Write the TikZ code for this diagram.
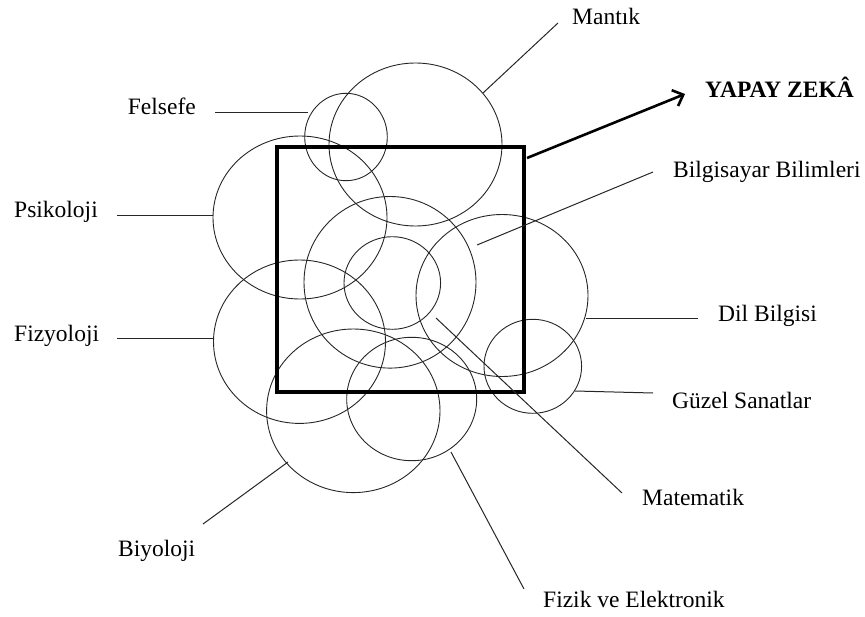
\documentclass[tikz,border=0pt]{standalone}
\usepackage{fontspec}
\setmainfont{Liberation Serif}
\usetikzlibrary{arrows.meta}
\begin{document}
\begin{tikzpicture}[x=1pt,y=-1pt,
  ring/.style={draw=black!85, line width=0.9pt},
  lead/.style={draw=black!85, line width=1pt},
  lbl/.style={font=\fontsize{23.5}{28}\selectfont, anchor=base west, inner sep=0pt},
  frame/.style={draw=black, line width=4pt},
  bigarrow/.style={draw=black, line width=2.6pt, -{Straight Barb[length=9pt,width=17pt,line width=2.6pt]}}]
\useasboundingbox (0,0) rectangle (865,616);

% circle centres
\coordinate (cFel) at (346,137);
\coordinate (cMan) at (415.5,144.5);
\coordinate (cPsi) at (300,217.5);
\coordinate (cCen) at (390,282.3);
\coordinate (cInn) at (392.3,283);
\coordinate (cBil) at (502,295.5);
\coordinate (cFiz) at (299.5,341.7);
\coordinate (cBiy) at (353.3,410.8);
\coordinate (cFik) at (411.7,399);
\coordinate (cGuz) at (532.8,366.3);

\draw[ring] (cFel) ellipse [x radius=41.3pt, y radius=43.7pt];
\draw[ring] (cMan) ellipse [x radius=86.5pt, y radius=81.5pt];
\draw[ring] (cPsi) ellipse [x radius=87pt, y radius=81.5pt];
\draw[ring] (cCen) ellipse [x radius=86pt, y radius=85.8pt];
\draw[ring] (cInn) ellipse [x radius=48.3pt, y radius=46.3pt];
\draw[ring] (cBil) ellipse [x radius=86pt, y radius=81pt];
\draw[ring] (cFiz) ellipse [x radius=86pt, y radius=81.7pt];
\draw[ring] (cBiy) ellipse [x radius=86.7pt, y radius=81.8pt];
\draw[ring] (cFik) ellipse [x radius=65pt, y radius=61.7pt];
\draw[ring] (cGuz) ellipse [x radius=48.8pt, y radius=47pt];

% frame
\coordinate (sqA) at (277,147);
\coordinate (sqB) at (524,392);
\draw[frame] (sqA) rectangle (sqB);

% labels
\node[lbl] (lMan) at (572,24) {Mantık};
\node[lbl] (lFel) at (127.7,114.3) {Felsefe};
\node[lbl] (lPsi) at (14,217) {Psikoloji};
\node[lbl] (lFiz) at (14,341.7) {Fizyoloji};
\node[lbl] (lBil) at (673,177) {Bilgisayar Bilimleri};
\node[lbl] (lDil) at (718,321) {Dil Bilgisi};
\node[lbl] (lGuz) at (672,408) {Güzel Sanatlar};
\node[lbl] (lMat) at (642,505) {Matematik};
\node[lbl] (lBiy) at (118,556) {Biyoloji};
\node[lbl] (lFik) at (543,607) {Fizik ve Elektronik};
\node[lbl, font=\fontsize{23.5}{28}\selectfont\bfseries] (lYZ) at (705,97) {YAPAY ZEKÂ};

% leader line end points
\coordinate (aMan) at (483,93);   \coordinate (bMan) at (558,23);
\coordinate (aFel) at (308,112);  \coordinate (bFel) at (215,112);
\coordinate (aPsi) at (213,215);  \coordinate (bPsi) at (117,215);
\coordinate (aFiz) at (213,338.3);\coordinate (bFiz) at (117,338.3);
\coordinate (aBil) at (477,245);  \coordinate (bBil) at (653,172);
\coordinate (aDil) at (586,318);  \coordinate (bDil) at (698,318);
\coordinate (aGuz) at (575,391);  \coordinate (bGuz) at (653,393);
\coordinate (aMat) at (436,318);  \coordinate (bMat) at (622,493);
\coordinate (aBiy) at (288,462);  \coordinate (bBiy) at (203,524);
\coordinate (aFik) at (451,452);  \coordinate (bFik) at (524,589);

\draw[lead] (aMan) -- (bMan);
\draw[lead] (aFel) -- (bFel);
\draw[lead] (aPsi) -- (bPsi);
\draw[lead] (aFiz) -- (bFiz);
\draw[lead] (aBil) -- (bBil);
\draw[lead] (aDil) -- (bDil);
\draw[lead] (aGuz) -- (bGuz);
\draw[lead] (aMat) -- (bMat);
\draw[lead] (aBiy) -- (bBiy);
\draw[lead] (aFik) -- (bFik);

% arrow to YAPAY ZEKA
\coordinate (arS) at (527,158);
\coordinate (arE) at (685,94);
\draw[bigarrow] (arS) -- (arE);
\end{tikzpicture}
\end{document}
